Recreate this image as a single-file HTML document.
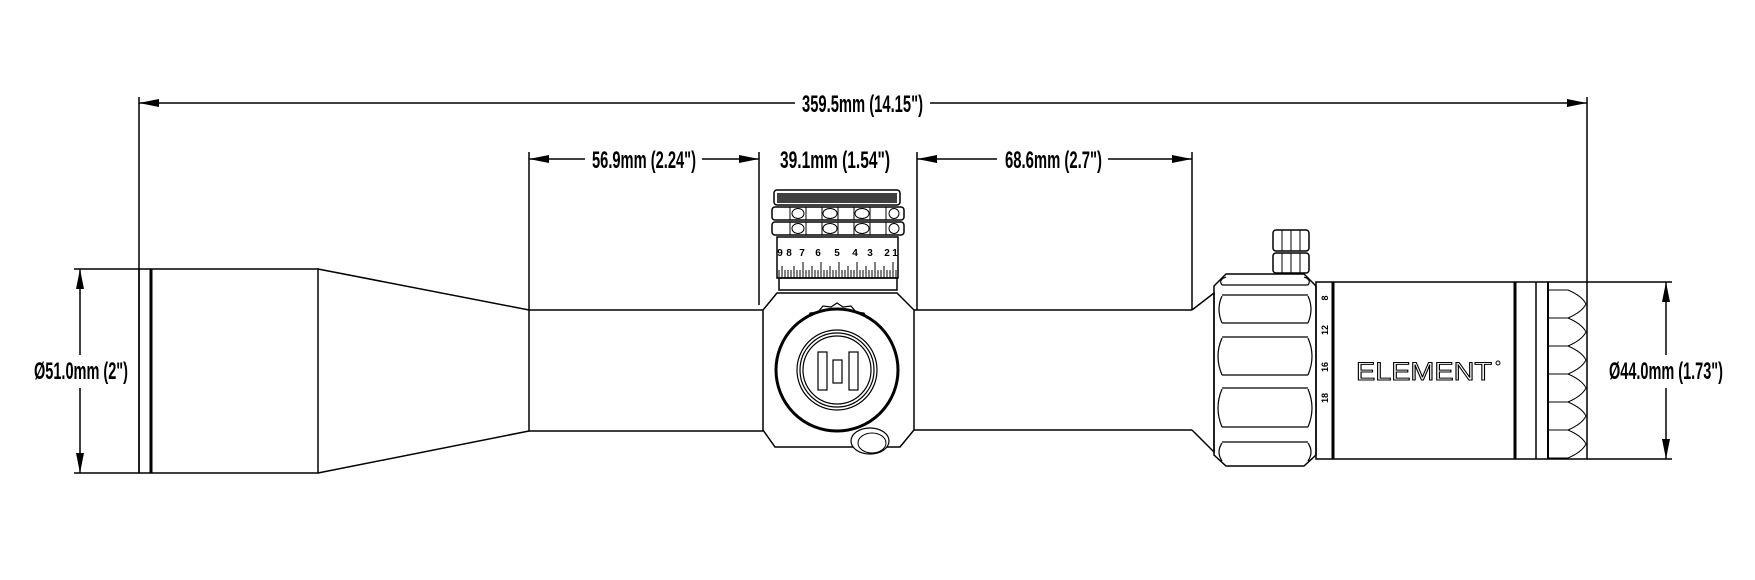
<!DOCTYPE html>
<html><head><meta charset="utf-8"><style>
html,body{margin:0;padding:0;background:#fff;}
svg{display:block;}
text.d{font-family:"Liberation Sans Narrow","Liberation Sans",sans-serif;font-weight:bold;font-size:24px;fill:#000;}
</style></head><body>
<svg width="1755" height="580" viewBox="0 0 1755 580" xmlns="http://www.w3.org/2000/svg">
<defs>
<marker id="a" viewBox="0 0 20 8" refX="20" refY="4" markerWidth="20" markerHeight="8" orient="auto-start-reverse" markerUnits="userSpaceOnUse"><path d="M20,4 L0,0 L0,8 Z" fill="#000"/></marker>
</defs>
<g stroke="#000" stroke-width="1.5" fill="none">
<line x1="139" y1="97" x2="139" y2="473"/>
<line x1="1587" y1="97" x2="1587" y2="282"/>
<line x1="139" y1="103" x2="795" y2="103" marker-start="url(#a)"/>
<line x1="930" y1="103" x2="1587" y2="103" marker-end="url(#a)"/>
<line x1="529" y1="152" x2="529" y2="310"/>
<line x1="759" y1="152" x2="759" y2="305"/>
<line x1="917" y1="152" x2="917" y2="310"/>
<line x1="1192" y1="152" x2="1192" y2="310"/>
<line x1="529" y1="159" x2="585" y2="159" marker-start="url(#a)"/>
<line x1="702" y1="159" x2="759" y2="159" marker-end="url(#a)"/>
<line x1="917" y1="159" x2="997" y2="159" marker-start="url(#a)"/>
<line x1="1108" y1="159" x2="1192" y2="159" marker-end="url(#a)"/>
<line x1="74" y1="269" x2="139" y2="269"/>
<line x1="74" y1="473" x2="139" y2="473"/>
<line x1="80" y1="269" x2="80" y2="355" marker-start="url(#a)"/>
<line x1="80" y1="388" x2="80" y2="473" marker-end="url(#a)"/>
<line x1="1587" y1="282" x2="1672" y2="282"/>
<line x1="1587" y1="459" x2="1672" y2="459"/>
<line x1="1666" y1="282" x2="1666" y2="355" marker-start="url(#a)"/>
<line x1="1666" y1="388" x2="1666" y2="459" marker-end="url(#a)"/>

<rect x="139" y="269" width="179" height="204"/>
<line x1="151" y1="269" x2="151" y2="473" stroke-width="3"/>
<polyline points="318,269 529,310 529,431 318,473"/>
<line x1="529" y1="310" x2="763" y2="310"/>
<line x1="529" y1="431" x2="763" y2="431"/>
<line x1="914" y1="310" x2="1192" y2="310"/>
<line x1="914" y1="430" x2="1192" y2="430"/>

<path d="M777,293 L897,293 L914,310 L914,430 L900,447 L775,447 L763,430 L763,310 Z"/>
<rect x="779" y="278" width="118" height="12"/>
<rect x="777" y="237" width="121" height="41"/>
<rect x="772" y="222" width="132" height="13" rx="3"/>
<rect x="772" y="207" width="132" height="13" rx="3"/>
<rect x="774" y="190" width="126" height="15" rx="3"/>
<g stroke-width="1">
<path d="M790,207v13M806,207v13M822,207v13M838,207v13M854,207v13M870,207v13M886,207v13"/>
<path d="M790,222v13M806,222v13M822,222v13M838,222v13M854,222v13M870,222v13M886,222v13"/>
<ellipse cx="798" cy="213.5" rx="6" ry="5"/><ellipse cx="830" cy="213.5" rx="7" ry="5"/><ellipse cx="862" cy="213.5" rx="7" ry="5"/><ellipse cx="894" cy="213.5" rx="5" ry="5"/>
<ellipse cx="798" cy="228.5" rx="6" ry="5"/><ellipse cx="830" cy="228.5" rx="7" ry="5"/><ellipse cx="862" cy="228.5" rx="7" ry="5"/><ellipse cx="894" cy="228.5" rx="5" ry="5"/>
</g>
</g>
<rect x="777" y="193" width="120" height="10" fill="#000" opacity="0.75"/>
<g stroke="#000" stroke-width="1">
<path d="M779,270v8M782,266v12M785,270v8M788,270v8M791,270v8M794,266v12M797,270v8M800,270v8M803,262v16M806,270v8M809,270v8M812,266v12M815,270v8M818,270v8M821,262v16M824,270v8M827,270v8M830,266v12M833,270v8M836,270v8M839,262v16M842,270v8M845,270v8M848,266v12M851,270v8M854,270v8M857,262v16M860,270v8M863,270v8M866,266v12M869,270v8M872,270v8M875,262v16M878,270v8M881,270v8M884,266v12M887,270v8M890,270v8M893,262v16M896,270v8"/>
</g>
<g font-family="Liberation Sans Narrow,Liberation Sans,sans-serif" font-weight="bold" font-size="10" fill="#000" text-anchor="middle">
<text x="780" y="256">9</text><text x="789" y="256">8</text><text x="802" y="256">7</text><text x="818" y="256">6</text><text x="837" y="256">5</text><text x="855" y="256">4</text><text x="870" y="256">3</text><text x="887" y="256">2</text><text x="895" y="256">1</text>
</g>

<g stroke="#000" fill="none">
<path stroke-width="1.2" d="M837,303 l6,4 8,-1 5,6 8,1 3,7 7,3 1,8 6,5 -1,8 4,6 -2,8 3,7 -3,8 2,7 -4,7 0,8 -6,5 -2,8 -7,3 -3,7 -8,1 -5,6 -8,-1 -6,4 -6,-4 -8,1 -5,-6 -8,-1 -3,-7 -7,-3 -1,-8 -6,-5 1,-8 -4,-6 2,-8 -3,-7 3,-8 -2,-7 4,-7 0,-8 6,-5 2,-8 7,-3 3,-7 8,-1 5,-6 8,1 Z"/>
<circle cx="837" cy="370" r="61" stroke-width="3" fill="#fff"/>
<circle cx="837" cy="370" r="40" stroke-width="1.2"/>
<circle cx="837" cy="370" r="37" stroke-width="1.2"/>
<circle cx="837" cy="370" r="34" stroke-width="1.2"/>
<rect x="818" y="352" width="9" height="38" stroke-width="1.2"/>
<rect x="833" y="360" width="9" height="23" stroke-width="1.2"/>
<rect x="849" y="352" width="9" height="38" stroke-width="1.2"/>
<ellipse cx="870" cy="441" rx="19" ry="13" stroke-width="1.2" fill="#fff"/>
<ellipse cx="872" cy="443" rx="14" ry="10" stroke-width="1"/>
</g>

<g stroke="#000" stroke-width="1.5" fill="none">
<polyline points="1192,310 1214,293 1214,452 1192,430"/>
<path d="M1226,274 L1304,274 L1316,286 L1316,455 L1304,466 L1226,466 L1214,455 L1214,286 Z"/>
<g stroke-width="1.2">
<path d="M1222,285 h86 M1222,295 h86 M1222,323 h86 M1222,337 h86 M1222,375 h86 M1222,388 h86 M1222,427 h86 M1222,442 h86"/>
<path d="M1222,296 q-6,13 0,27 M1308,296 q6,13 0,27 M1222,338 q-8,18 0,37 M1308,338 q8,18 0,37 M1222,389 q-8,19 0,38 M1308,389 q8,19 0,38 M1222,443 q-6,9 0,18 M1308,443 q6,9 0,18 M1222,285 q-4,-5 4,-8 M1308,285 q4,-5 -4,-8"/>
</g>
<rect x="1316" y="282" width="271" height="177"/>
<line x1="1333" y1="282" x2="1333" y2="459" stroke-width="3"/>
<line x1="1515" y1="282" x2="1515" y2="459" stroke-width="3"/>
<line x1="1536" y1="282" x2="1536" y2="459"/>
<line x1="1548" y1="282" x2="1548" y2="459" stroke-width="2"/>
<g stroke-width="1">
<path d="M1548,290 h20 q14,6 18,14 q-4,8 -18,14 h-20 M1548,318 h20 q14,6 18,14 q-4,8 -18,14 h-20 M1548,346 h20 q14,6 18,14 q-4,8 -18,14 h-20 M1548,374 h20 q14,6 18,14 q-4,8 -18,14 h-20 M1548,402 h20 q14,6 18,14 q-4,8 -18,14 h-20 M1548,430 h20 q14,6 18,14 q-4,8 -18,14 h-20"/>
</g>
<rect x="1273" y="230" width="36" height="21" rx="3"/>
<rect x="1273" y="253" width="36" height="20" rx="3"/>
<path d="M1282,230v21M1291,230v21M1300,230v21M1282,253v20M1291,253v20M1300,253v20" stroke-width="1"/>
</g>
<g font-family="Liberation Sans Narrow,Liberation Sans,sans-serif" font-weight="bold" font-size="9" fill="#000" text-anchor="middle">
<text transform="translate(1328,298) rotate(-90)">8</text>
<text transform="translate(1328,330) rotate(-90)">12</text>
<text transform="translate(1328,367) rotate(-90)">16</text>
<text transform="translate(1328,398) rotate(-90)">18</text>
</g>
<text x="1356" y="380" font-family="Liberation Sans,sans-serif" font-size="25" fill="none" stroke="#000" stroke-width="1" textLength="136" lengthAdjust="spacingAndGlyphs">ELEMENT</text>
<circle cx="1498" cy="363" r="2" fill="none" stroke="#000" stroke-width="1"/>

<text class="d" x="802" y="112" textLength="121" lengthAdjust="spacingAndGlyphs">359.5mm (14.15")</text>
<text class="d" x="592" y="168" textLength="104" lengthAdjust="spacingAndGlyphs">56.9mm (2.24")</text>
<text class="d" x="780" y="168" textLength="110" lengthAdjust="spacingAndGlyphs">39.1mm (1.54")</text>
<text class="d" x="1005" y="168" textLength="97" lengthAdjust="spacingAndGlyphs">68.6mm (2.7")</text>
<text class="d" x="34" y="379" textLength="94" lengthAdjust="spacingAndGlyphs">Ø51.0mm (2")</text>
<text class="d" x="1609" y="379" textLength="114" lengthAdjust="spacingAndGlyphs">Ø44.0mm (1.73")</text>
</svg>
</body></html>
